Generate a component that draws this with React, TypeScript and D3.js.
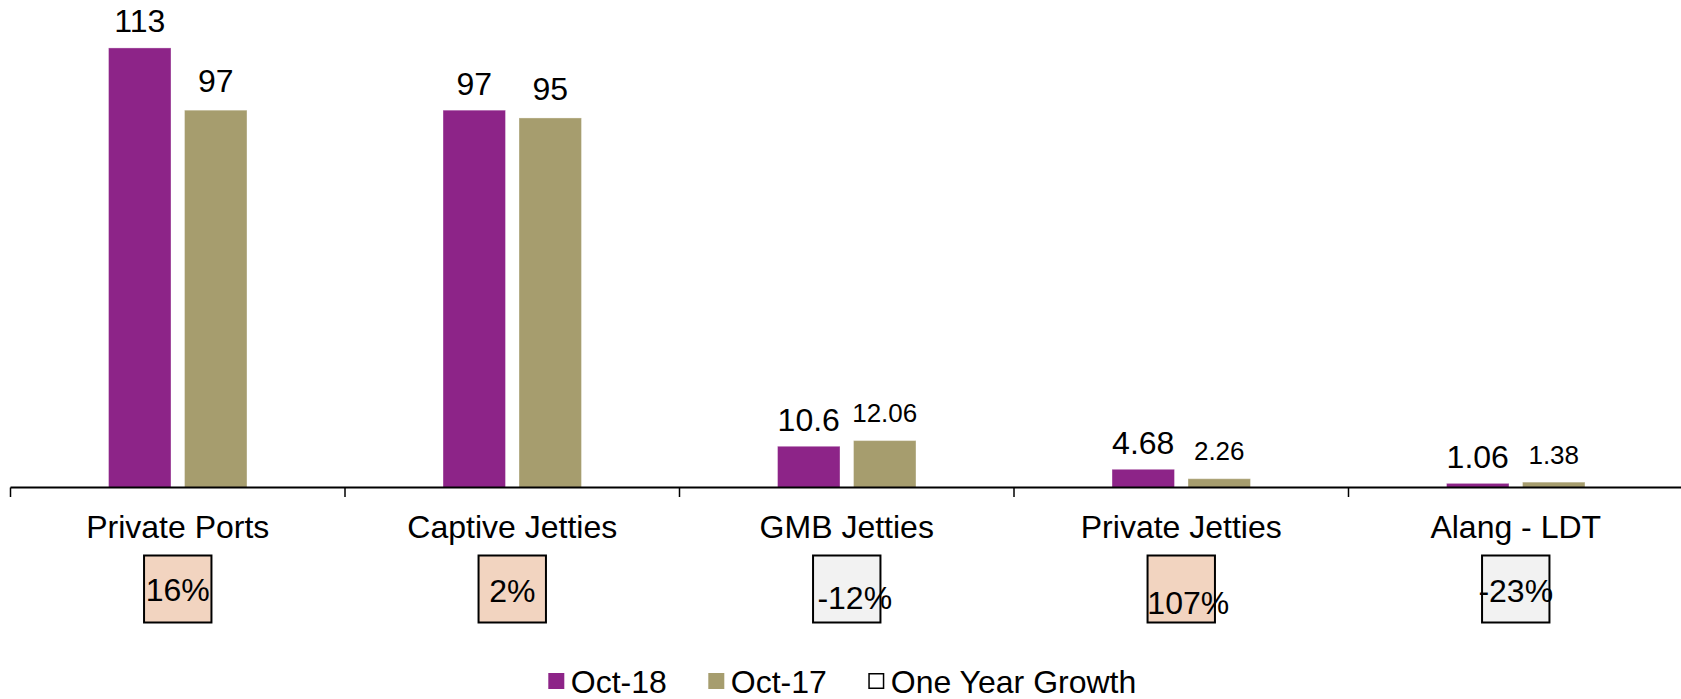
import React from "react";
import * as d3 from "d3";

const categories = ["Private Ports", "Captive Jetties", "GMB Jetties", "Private Jetties", "Alang - LDT"];
const seriesNames = ["Oct-18", "Oct-17"];
const oct18 = [113, 97, 10.6, 4.68, 1.06];
const oct17 = [97, 95, 12.06, 2.26, 1.38];
const oct18Labels = ["113", "97", "10.6", "4.68", "1.06"];
const oct17Labels = ["97", "95", "12.06", "2.26", "1.38"];
const growth = [16, 2, -12, 107, -23];
const legendNames = ["Oct-18", "Oct-17", "One Year Growth"];

// styling
const W = 1681;
const H = 699;
const COLORS = ["#8D2488", "#A69D6E"];
const FONT = "'Liberation Sans', Arial, Helvetica, sans-serif";
const BIG = 32;
const oct17FontSizes = [32, 32, 26, 26, 26];
const growthNudge = [
  { dx: 0, dy: 0 },
  { dx: 0, dy: 1 },
  { dx: 8, dy: 7.5 },
  { dx: 7, dy: 13 },
  { dx: 0, dy: 0.5 },
];

export default function App() {
  const x0 = d3.scaleBand<string>().domain(categories).range([10.5, 10.5 + 5 * 334.5]).paddingInner(0).paddingOuter(0);
  const x1 = d3
    .scaleBand<string>()
    .domain(seriesNames)
    .range([0, x0.bandwidth()])
    .paddingInner(0.178)
    .paddingOuter(1.29);
  const y = d3.scaleLinear().domain([0, 120]).range([487.5, 487.5 - 120 * 3.89]);

  const series = [oct18, oct17];
  const labels = [oct18Labels, oct17Labels];
  const baseY = y(0);

  const legendY = 681;
  const legendStarts = [548.3, 708.3, 868.3];

  return (
    <svg width={W} height={H} style={{ position: "absolute", left: 0, top: 0, background: "#fff" }} fontFamily={FONT}>
      <rect x={0} y={0} width={W} height={H} fill="#fff" />
      {categories.map((c, ci) => (
        <g key={c}>
          {seriesNames.map((s, si) => {
            const v = series[si][ci];
            const bx = (x0(c) ?? 0) + (x1(s) ?? 0);
            const bw = x1.bandwidth();
            const top = y(v);
            const fs = si === 0 ? BIG : oct17FontSizes[ci];
            const gap = si === 0 ? 15.5 : 18.3;
            return (
              <g key={s}>
                <rect x={bx} y={top} width={bw} height={baseY - top} fill={COLORS[si]} stroke="#ffffff" strokeOpacity={0.35} strokeWidth={1} />
                <text x={bx + bw / 2} y={top - gap} textAnchor="middle" fontSize={fs} fill="#000">
                  {labels[si][ci]}
                </text>
              </g>
            );
          })}
        </g>
      ))}
      <line x1={10.5} x2={W} y1={baseY} y2={baseY} stroke="#000" strokeWidth={2} />
      {d3.range(categories.length + 1).map((i) => {
        const tx = i < categories.length ? (x0(categories[i]) ?? 0) : (x0(categories[categories.length - 1]) ?? 0) + x0.bandwidth();
        return <line key={i} x1={tx} x2={tx} y1={baseY} y2={baseY + 9.5} stroke="#000" strokeWidth={1.5} />;
      })}
      {categories.map((c, ci) => {
        const cx = (x0(c) ?? 0) + x0.bandwidth() / 2;
        const g = growth[ci];
        const n = growthNudge[ci];
        return (
          <g key={c}>
            <text x={cx} y={537.5} textAnchor="middle" fontSize={BIG} fill="#000">
              {c}
            </text>
            <rect x={cx - 33.7} y={555.5} width={67.4} height={67} fill={g >= 0 ? "#F2D4C0" : "#F2F2F2"} stroke="#000" strokeWidth={2} />
            <text x={cx + n.dx} y={601 + n.dy} textAnchor="middle" fontSize={BIG} fill="#000">
              {`${g}%`}
            </text>
          </g>
        );
      })}
      {legendNames.map((name, i) => (
        <g key={name}>
          {i < 2 ? (
            <rect x={legendStarts[i]} y={legendY - 8} width={16} height={16} fill={COLORS[i]} />
          ) : (
            <rect x={legendStarts[i] + 0.75} y={legendY - 7.25} width={14.5} height={14.5} fill="#fff" stroke="#000" strokeWidth={1.5} />
          )}
          <text x={legendStarts[i] + 22.5} y={legendY + 11.5} fontSize={BIG} fill="#000">
            {name}
          </text>
        </g>
      ))}
    </svg>
  );
}
